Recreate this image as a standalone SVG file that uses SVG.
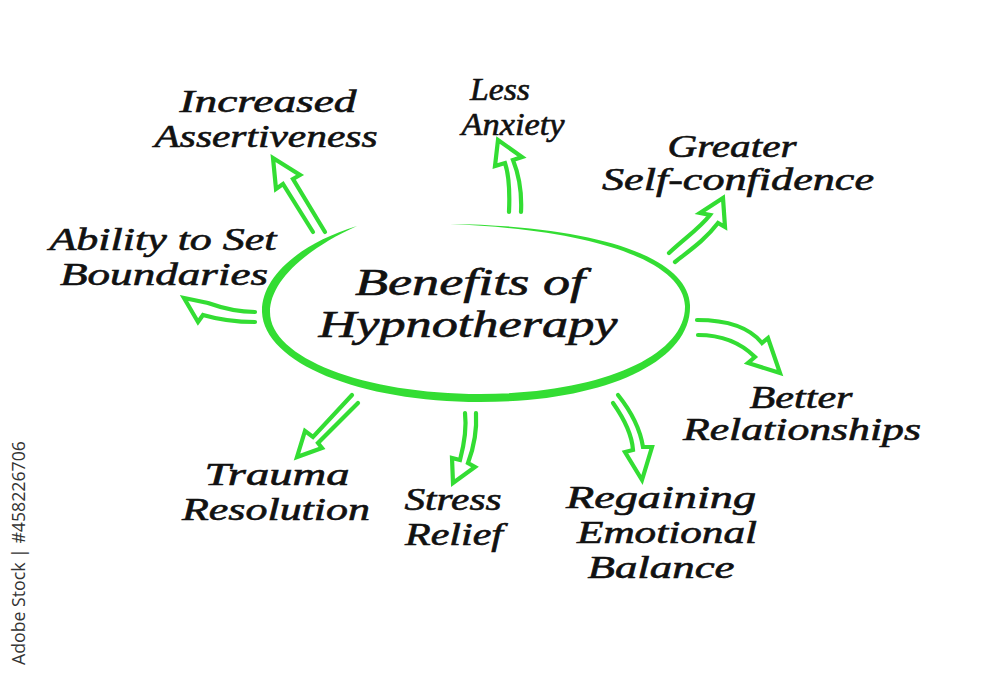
<svg xmlns="http://www.w3.org/2000/svg" width="1000" height="681" viewBox="0 0 1000 681">
<style>
.t{font-family:"Liberation Serif",serif;font-style:italic;font-size:31px;fill:#111;stroke:#111;stroke-width:0.6;text-anchor:middle}
.c{font-size:37px}
.a{fill:none;stroke:#33dd33;stroke-width:4.2;stroke-linejoin:miter;stroke-linecap:round}
.wm{font-family:"Open Sans","DejaVu Sans",sans-serif;font-size:18px;fill:#333;text-anchor:middle}
</style>
<rect width="1000" height="681" fill="#fff"/>
<g id="center">
<path fill="#33dd33" d="M357,226 C298,244 261,278 262,312 C264,363 360,402 480,402 C604,402 692,362 690,305 C688,258 600,226 450,224 C598,230 683,262 685,306 C686,356 600,394 480,394 C364,394 270,358 270,312 C270,282 304,250 357,226 Z"/>
<text class="t c" x="470" y="295" textLength="230" lengthAdjust="spacingAndGlyphs">Benefits of</text>
<text class="t c" x="468" y="337" textLength="299" lengthAdjust="spacingAndGlyphs">Hypnotherapy</text>
</g>
<g id="connectors">
<path class="a" d="M313,232 L283,184 L276,189 L273,158 L300,175 L293,179 L325,232"/>
<path class="a" d="M255,312 C238,312 222,308 208,303 L184,298 L198,322 L203,315 C220,320 238,322 255,322"/>
<path class="a" d="M509,212 C510,190 509,175 505,163 L495,166 L498,140 L522,157 L513,160 C519,175 522,192 521,212"/>
<path class="a" d="M669,253 C685,238 700,228 710,215 L700,213 L723,198 L725,227 L718,223 C705,240 690,250 675,262"/>
<path class="a" d="M697,320 C730,320 750,328 762,343 L768,338 L780,373 L748,363 L755,357 C740,342 720,335 698,335"/>
<path class="a" d="M613,403 C625,420 632,435 633,450 L625,452 L642,480 L652,447 L643,447 C640,428 630,410 618,395"/>
<path class="a" d="M465,413 C467,430 464,445 460,460 L452,458 L453,483 L475,467 L468,463 C474,447 477,430 476,413"/>
<path class="a" d="M352,395 L313,437 L305,431 L297,457 L322,448 L318,443 L358,403"/>
</g>
<g id="n1"><text class="t" x="268" y="112" textLength="177" lengthAdjust="spacingAndGlyphs">Increased</text><text class="t" x="266" y="147" textLength="223" lengthAdjust="spacingAndGlyphs">Assertiveness</text></g>
<g id="n2"><text class="t" x="500" y="100" textLength="60" lengthAdjust="spacingAndGlyphs">Less</text><text class="t" x="513" y="135" textLength="103" lengthAdjust="spacingAndGlyphs">Anxiety</text></g>
<g id="n3"><text class="t" x="732" y="157" textLength="129" lengthAdjust="spacingAndGlyphs">Greater</text><text class="t" x="738" y="190" textLength="272" lengthAdjust="spacingAndGlyphs">Self-confidence</text></g>
<g id="n4"><text class="t" x="163" y="250" textLength="227" lengthAdjust="spacingAndGlyphs">Ability to Set</text><text class="t" x="164" y="285" textLength="208" lengthAdjust="spacingAndGlyphs">Boundaries</text></g>
<g id="n5"><text class="t" x="801" y="408" textLength="103" lengthAdjust="spacingAndGlyphs">Better</text><text class="t" x="802" y="440" textLength="238" lengthAdjust="spacingAndGlyphs">Relationships</text></g>
<g id="n6"><text class="t" x="277" y="485" textLength="145" lengthAdjust="spacingAndGlyphs">Trauma</text><text class="t" x="276" y="520" textLength="188" lengthAdjust="spacingAndGlyphs">Resolution</text></g>
<g id="n7"><text class="t" x="453" y="510" textLength="97" lengthAdjust="spacingAndGlyphs">Stress</text><text class="t" x="454" y="545" textLength="98" lengthAdjust="spacingAndGlyphs">Relief</text></g>
<g id="n8"><text class="t" x="661" y="508" textLength="190" lengthAdjust="spacingAndGlyphs">Regaining</text><text class="t" x="667" y="543" textLength="180" lengthAdjust="spacingAndGlyphs">Emotional</text><text class="t" x="661" y="578" textLength="147" lengthAdjust="spacingAndGlyphs">Balance</text></g>
<text class="wm" transform="translate(25,553) rotate(-90)" textLength="224" lengthAdjust="spacingAndGlyphs">Adobe Stock | #458226706</text>
</svg>
